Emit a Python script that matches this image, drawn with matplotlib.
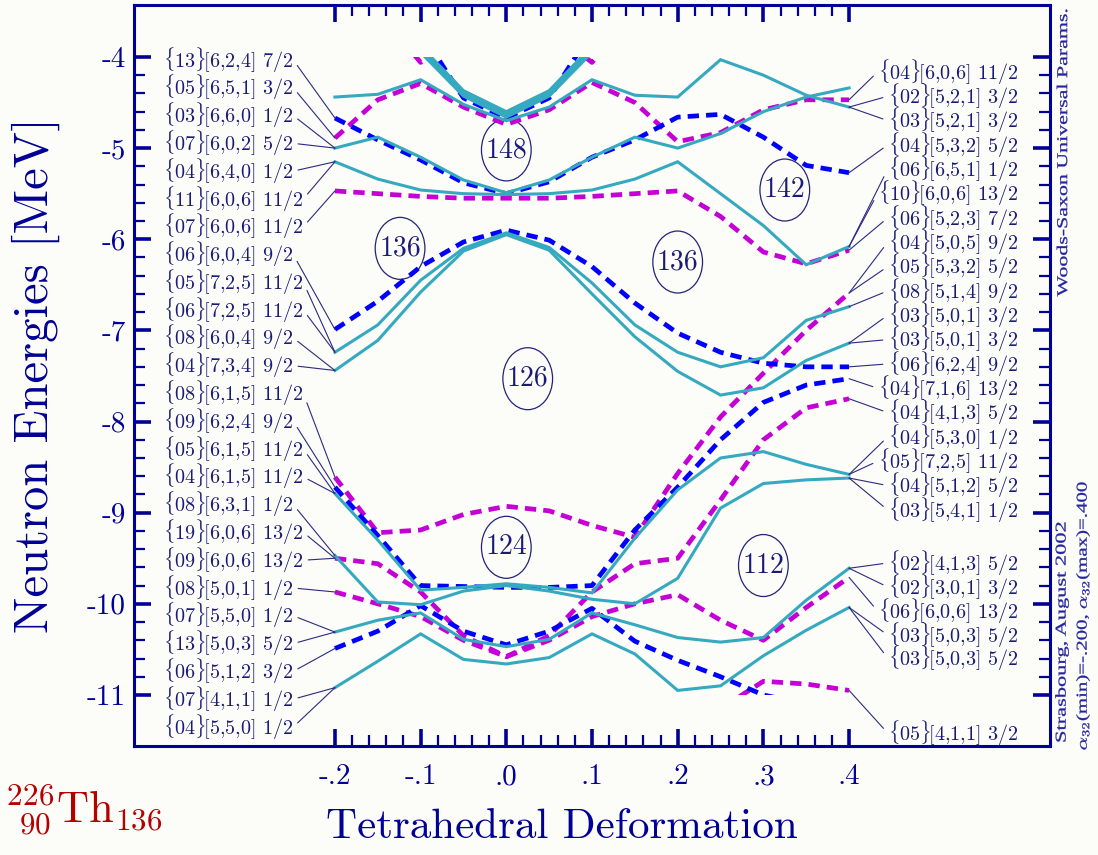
import numpy as np
import matplotlib.pyplot as plt
from matplotlib.patches import Ellipse, Rectangle, PathPatch
from matplotlib.ticker import FixedLocator, FixedFormatter
from matplotlib.textpath import TextPath
from matplotlib.font_manager import FontProperties
from matplotlib.transforms import Affine2D

plt.rcParams['font.family'] = ['cmr10']
plt.rcParams['mathtext.fontset'] = 'cm'
plt.rcParams['axes.unicode_minus'] = False

# deformation mesh
alpha = [-0.20, -0.15, -0.10, -0.05, 0.00, 0.05, 0.10, 0.15, 0.20, 0.25, 0.30, 0.35, 0.40]

# single-particle levels [MeV]
t1 = [-4.44, -4.41, -4.25, -4.52, -4.70, -4.55, -4.25, -4.42, -4.44, -4.03, -4.20, -4.42, -4.55]
m1 = [-4.89, -4.47, -4.29, -4.55, -4.74, -4.58, -4.28, -4.50, -4.93, -4.83, -4.58, -4.47, -4.47]
t2 = [-5.00, -4.88, -5.10, -5.35, -5.49, -5.35, -5.10, -4.88, -5.00, -4.84, -4.60, -4.44, -4.34]
b1 = [-4.67, -4.91, -5.13, -5.38, -5.50, -5.37, -5.10, -4.91, -4.66, -4.63, -4.88, -5.19, -5.27]
t3 = [-5.15, -5.34, -5.46, -5.50, -5.51, -5.50, -5.46, -5.34, -5.15, -5.50, -5.85, -6.28, -6.08]
m2 = [-5.47, -5.50, -5.53, -5.55, -5.55, -5.55, -5.53, -5.50, -5.47, -5.75, -6.14, -6.27, -6.12]
k1 = [-2.60, -3.10, -3.92, -4.40, -4.63, -4.40, -3.92, -3.10, -2.60, -2.60, -2.60, -2.60, -2.60]
k2 = [-2.60, -3.12, -3.95, -4.43, -4.66, -4.43, -3.95, -3.12, -2.60, -2.60, -2.60, -2.60, -2.60]
k3 = [-2.60, -3.08, -3.88, -4.37, -4.60, -4.37, -3.88, -3.08, -2.60, -2.60, -2.60, -2.60, -2.60]
kb = [-2.60, -3.00, -3.72, -4.45, -4.67, -4.45, -3.72, -3.00, -2.60, -2.60, -2.60, -2.60, -2.60]
km = [-3.00, -3.50, -4.06, -3.70, -3.50, -3.70, -4.06, -3.50, -3.00, -3.00, -3.00, -3.00, -3.00]

b2 = [-6.99, -6.68, -6.30, -6.03, -5.90, -6.01, -6.30, -6.70, -7.03, -7.24, -7.36, -7.40, -7.40]
t4 = [-7.24, -6.94, -6.45, -6.10, -5.93, -6.09, -6.48, -6.94, -7.24, -7.40, -7.30, -6.89, -6.74]
t5 = [-7.44, -7.11, -6.58, -6.13, -5.95, -6.12, -6.60, -7.07, -7.45, -7.71, -7.63, -7.33, -7.14]

m3 = [-8.61, -9.22, -9.19, -9.02, -8.93, -8.98, -9.14, -9.27, -8.57, -7.95, -7.47, -7.00, -6.59]
mv = [-9.50, -9.56, -9.87, -10.35, -10.58, -10.35, -9.87, -9.56, -9.50, -8.86, -8.20, -7.85, -7.75]
m5 = [-9.87, -10.00, -10.14, -10.40, -10.58, -10.40, -10.14, -10.00, -9.90, -10.18, -10.40, -10.04, -9.71]
m6 = [-12.0, -12.0, -12.0, -12.0, -12.0, -12.0, -12.0, -12.0, -11.8, -11.15, -10.85, -10.88, -10.95]
cc = [-8.79, -9.30, -9.85, -9.82, -9.78, -9.82, -9.88, -9.28, -8.75, -8.40, -8.33, -8.47, -8.58]
b3 = [-8.72, -9.25, -9.80, -9.81, -9.82, -9.82, -9.80, -9.19, -8.72, -8.20, -7.79, -7.60, -7.53]
ce = [-9.47, -9.98, -10.01, -9.86, -9.80, -9.86, -9.95, -10.00, -9.72, -8.95, -8.68, -8.64, -8.62]
ca = [-10.31, -10.18, -10.10, -10.39, -10.47, -10.39, -10.10, -10.23, -10.37, -10.42, -10.37, -9.96, -9.61]
b4 = [-10.49, -10.30, -10.02, -10.30, -10.45, -10.30, -10.05, -10.41, -10.62, -10.80, -11.00, -11.10, -11.20]
cb = [-10.92, -10.63, -10.33, -10.61, -10.66, -10.59, -10.33, -10.55, -10.95, -10.90, -10.57, -10.29, -10.04]

# Nilsson labels at the two ends of the diagram
left_labels = ['{13}[6,2,4] 7/2', '{05}[6,5,1] 3/2', '{03}[6,6,0] 1/2', '{07}[6,0,2] 5/2',
               '{04}[6,4,0] 1/2', '{11}[6,0,6] 11/2', '{07}[6,0,6] 11/2', '{06}[6,0,4] 9/2',
               '{05}[7,2,5] 11/2', '{06}[7,2,5] 11/2', '{08}[6,0,4] 9/2', '{04}[7,3,4] 9/2',
               '{08}[6,1,5] 11/2', '{09}[6,2,4] 9/2', '{05}[6,1,5] 11/2', '{04}[6,1,5] 11/2',
               '{08}[6,3,1] 1/2', '{19}[6,0,6] 13/2', '{09}[6,0,6] 13/2', '{08}[5,0,1] 1/2',
               '{07}[5,5,0] 1/2', '{13}[5,0,3] 5/2', '{06}[5,1,2] 3/2', '{07}[4,1,1] 1/2',
               '{04}[5,5,0] 1/2']
left_targets = [b1, m1, t2, t2, t3, t3, m2, b2, t4, t4, t5, t5,
                m3, b3, cc, cc, ce, mv, mv, m5, ca, ca, b4, cb, cb]

right_labels = ['{04}[6,0,6] 11/2', '{02}[5,2,1] 3/2', '{03}[5,2,1] 3/2', '{04}[5,3,2] 5/2',
                '{06}[6,5,1] 1/2', '{10}[6,0,6] 13/2', '{06}[5,2,3] 7/2', '{04}[5,0,5] 9/2',
                '{05}[5,3,2] 5/2', '{08}[5,1,4] 9/2', '{03}[5,0,1] 3/2', '{03}[5,0,1] 3/2',
                '{06}[6,2,4] 9/2', '{04}[7,1,6] 13/2', '{04}[4,1,3] 5/2', '{04}[5,3,0] 1/2',
                '{05}[7,2,5] 11/2', '{04}[5,1,2] 5/2', '{03}[5,4,1] 1/2', '{02}[4,1,3] 5/2',
                '{02}[3,0,1] 3/2', '{06}[6,0,6] 13/2', '{03}[5,0,3] 5/2', '{03}[5,0,3] 5/2',
                '{05}[4,1,1] 3/2']
right_targets = [m1, t1, t1, b1, t3, t3, m2, m3, m3, t4, t5, t5,
                 b2, b3, mv, cc, cc, ce, ce, ca, ca, m5, cb, cb, m6]

# shell gaps
gap_numbers = ['148', '136', '136', '142', '126', '124', '112']
gap_x = [0.000, -0.124, 0.200, 0.325, 0.025, 0.000, 0.300]
gap_y = [-5.02, -6.10, -6.25, -5.46, -7.53, -9.38, -9.58]

x_ticks = [-0.2, -0.1, 0.0, 0.1, 0.2, 0.3, 0.4]
x_ticklabels = ['-.2', '-.1', '.0', '.1', '.2', '.3', '.4']
y_ticks = [-11, -10, -9, -8, -7, -6, -5, -4]
y_ticklabels = ['-11', '-10', '-9', '-8', '-7', '-6', '-5', '-4']

NAVY = '#000096'
TXT = '#1a1a78'
NOTE = '#2424a0'
CYAN = '#35a9bf'
BLUE = '#0000ff'
MAG = '#c400d6'
BG = '#fcfcf8'
W, H = 1098, 855


def px2y(py):
    return -4.0 - (py - 57.0) / 91.14


def nilsson(s):
    s = s.replace('{', r'\{').replace('}', r'\}\!').replace(',', '{,}').replace(' ', r'\ ')
    return '$' + s + '$'


def vertical_note(s, cx, cy, length, size=15):
    # rotated, stretched caption placed in pixel coordinates
    tp = TextPath((0, 0), s, size=size, prop=FontProperties(family='Liberation Serif'))
    ext = tp.get_extents()
    tr = (Affine2D().translate(-(ext.x0 + ext.width / 2), -(ext.y0 + ext.height / 2))
          .scale(length / ext.width, 1.0).rotate_deg(90).translate(cx, H - cy))
    fig.add_artist(PathPatch(tp, transform=tr, fc=NOTE, ec=NOTE, lw=0.2))


fig = plt.figure(figsize=(W / 100, H / 100), dpi=100)
fig.patch.set_facecolor(BG)
ax = fig.add_axes([134 / W, 109 / H, 916 / W, 741 / H])
ax.set_facecolor(BG)
ax.set_xlim(-0.4345, 0.6345)
ax.set_ylim(-11.56, -3.43)

clip = Rectangle((-0.21, -11.0), 0.62, 7.0, transform=ax.transData)

solid = dict(color=CYAN, lw=2.2, solid_joinstyle='miter')
dashb = dict(color=BLUE, lw=3.4, dashes=(2.4, 1.5))
dashm = dict(color=MAG, lw=3.4, dashes=(2.4, 1.5))

levels = [(m1, dashm), (m2, dashm), (km, dashm), (m3, dashm), (mv, dashm), (m5, dashm), (m6, dashm),
          (b1, dashb), (kb, dashb), (b2, dashb), (b3, dashb), (b4, dashb),
          (t1, solid), (t2, solid), (t3, solid), (k1, solid), (k2, solid), (k3, solid),
          (t4, solid), (t5, solid), (cc, solid), (ce, solid), (ca, solid), (cb, solid)]
for e, st in levels:
    ln, = ax.plot(alpha, e, **st)
    ln.set_clip_path(clip)

lead = dict(arrowstyle='-', color='#2b2b80', lw=0.8, shrinkA=1.5, shrinkB=0)
ly_left = np.linspace(px2y(60), px2y(727), len(left_labels))
for lab, tgt, ly in zip(left_labels, left_targets, ly_left):
    ax.annotate(nilsson(lab), xy=(alpha[0], tgt[0]), xytext=(-0.4006, ly),
                ha='left', va='center', fontsize=14.5, color=TXT,
                arrowprops=dict(relpos=(1, 0.5), **lead))

py_right = list(72 + 24.33 * np.arange(19)) + [563, 587, 611, 635, 658, 733]
for lab, tgt, py in zip(right_labels, right_targets, py_right):
    ax.annotate(nilsson(lab), xy=(alpha[-1], tgt[-1]), xytext=(0.597, px2y(py)),
                ha='right', va='center', fontsize=14.5, color=TXT,
                arrowprops=dict(relpos=(0, 0.5), **lead))

for n, gx, gy in zip(gap_numbers, gap_x, gap_y):
    ax.add_patch(Ellipse((gx, gy), 0.058, 0.68, fill=False, ec='#23237a', lw=0.9))
    ax.text(gx, gy, n, ha='center', va='center', fontsize=20, color=TXT)

for sp in ax.spines.values():
    sp.set_color(NAVY)
    sp.set_linewidth(2.2)

ax.xaxis.set_major_locator(FixedLocator(x_ticks))
ax.xaxis.set_major_formatter(FixedFormatter(x_ticklabels))
ax.xaxis.set_minor_locator(FixedLocator(np.arange(-0.2, 0.401, 0.02)))
ax.yaxis.set_major_locator(FixedLocator(y_ticks))
ax.yaxis.set_major_formatter(FixedFormatter(y_ticklabels))
ax.yaxis.set_minor_locator(FixedLocator(np.arange(-11.0, -3.99, 0.2)))
ax.tick_params(which='both', direction='in', top=True, right=True, color=NAVY,
               labelcolor=NAVY, labelsize=21)
ax.tick_params(which='major', length=12, width=2.6)
ax.tick_params(which='minor', length=8, width=1.6)
ax.tick_params(axis='x', pad=13)
ax.tick_params(axis='y', pad=6)

fig.text(562 / W, 1 - 827 / H, 'Tetrahedral Deformation', ha='center', va='center',
         fontsize=31, color=NAVY)
fig.text(36 / W, 1 - 375 / H, 'Neutron Energies [MeV]', ha='center', va='center',
         rotation=90, fontsize=35, color=NAVY)
fig.text(84 / W, 1 - 810 / H, r'${}^{226}_{\;\,90}\mathrm{Th}_{136}$', ha='center',
         va='center', fontsize=32, color='#b40000')

vertical_note('Woods-Saxon Universal Params.', 1062, 153, 287)
vertical_note('Strasbourg, August 2002', 1062, 632, 219)
vertical_note(r'$\alpha_{32}$(min)=-.200, $\alpha_{32}$(max)=.400', 1083, 616, 267)

fig.savefig('out.png', dpi=100, facecolor=BG)
